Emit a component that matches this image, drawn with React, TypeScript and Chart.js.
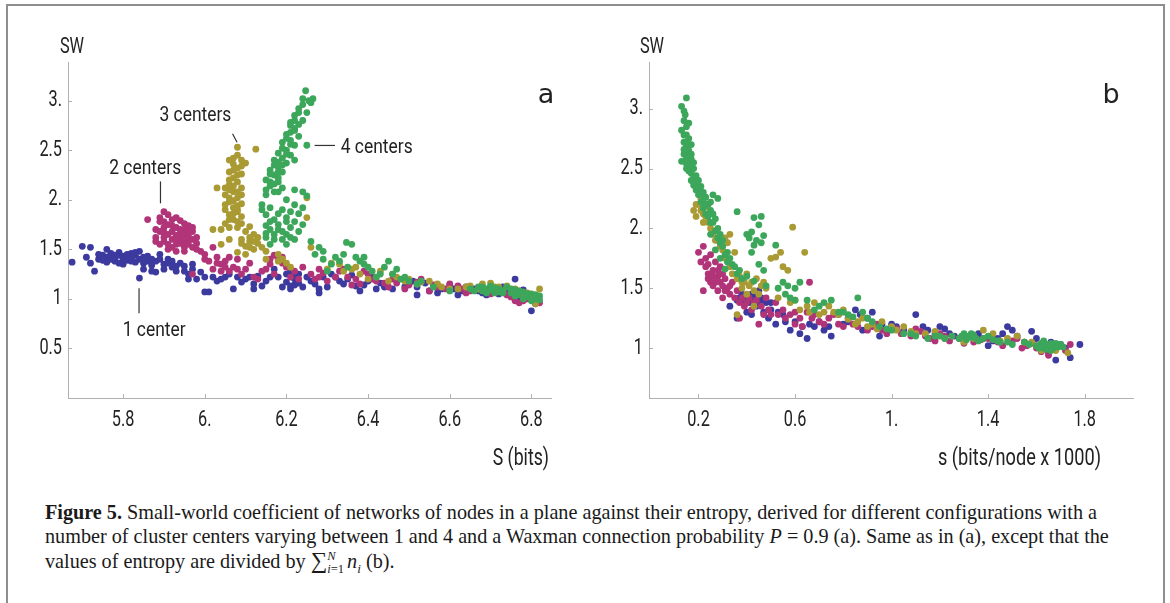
import React, { useEffect, useRef } from 'react';
import { Chart, registerables } from 'chart.js';
Chart.register(...registerables);

const SANS = "Roboto, 'Noto Sans', sans-serif";
const SERIF = "'Liberation Serif', 'DejaVu Serif', serif";

const COLORS = { blue: '#3c3a9e', magenta: '#b13479', olive: '#a99a34', green: '#3ca65b' };

// ---------- Panel a data (S in bits, SW) as flat x,y pairs ----------
const blueA = [
  5.675,1.37, 5.70,1.53, 5.72,1.52, 5.74,1.40, 5.73,1.28, 5.75,1.44, 5.76,1.50, 5.77,1.43, 5.78,1.41, 5.78,1.38,
  5.79,1.44, 5.80,1.40, 5.80,1.35, 5.81,1.42, 5.82,1.46, 5.82,1.38, 5.83,1.44, 5.84,1.40, 5.84,1.48, 5.85,1.36,
  5.85,1.30, 5.86,1.43, 5.87,1.28, 5.87,1.40, 5.88,1.38, 5.89,1.45, 5.90,1.35, 5.91,1.40, 5.92,1.32, 5.93,1.28,
  5.94,1.36, 5.95,1.33, 5.96,1.25, 5.97,1.30, 5.84,1.21, 5.88,1.27, 5.76,1.37, 5.79,1.47, 5.77,1.40, 5.81,1.39,
  5.98,1.20, 6.00,1.07, 6.01,1.07, 6.02,1.22, 6.03,1.18, 6.05,1.22, 6.06,1.25, 6.07,1.10, 6.08,1.22, 6.10,1.20,
  6.12,1.15, 6.13,1.23, 6.15,1.18, 6.17,1.30, 6.18,1.22, 6.19,1.12, 6.20,1.17, 6.21,1.10, 6.22,1.20, 6.23,1.25,
  6.24,1.12, 6.26,1.18, 6.28,1.06, 6.29,1.22, 6.31,1.25, 6.33,1.18, 6.35,1.20, 6.37,1.13, 6.40,1.18, 6.42,1.10,
  6.44,1.12, 6.47,1.20, 6.50,1.15, 6.52,1.12, 6.55,1.08, 6.58,1.10, 6.60,1.14, 6.62,1.04, 6.63,1.08, 6.66,1.10,
  6.68,1.06, 6.70,1.12, 6.72,1.05, 6.74,1.10, 6.76,1.20, 6.77,1.02, 6.79,1.05, 6.80,0.88, 6.81,1.00,
  5.71,1.42, 5.72,1.36, 5.74,1.45, 5.75,1.39, 5.76,1.42, 5.77,1.46, 5.78,1.44, 5.79,1.36, 5.80,1.43, 5.81,1.45,
  5.82,1.41, 5.83,1.37, 5.83,1.47, 5.85,1.42, 5.86,1.38, 5.87,1.34, 5.89,1.40, 5.90,1.30, 5.91,1.36, 5.92,1.38,
  5.93,1.33, 5.95,1.28, 5.97,1.35, 5.99,1.27, 6.00,1.22, 6.04,1.20, 6.09,1.17, 6.11,1.22, 6.14,1.13, 6.16,1.22,
  6.20,1.25, 6.22,1.14, 6.25,1.22, 6.27,1.15, 6.30,1.12, 6.32,1.22, 6.34,1.15, 6.36,1.24, 6.39,1.14, 6.41,1.22,
  6.43,1.16, 6.46,1.10, 6.49,1.12, 6.51,1.18, 6.54,1.16, 6.57,1.06, 6.61,1.10, 6.64,1.12, 6.67,1.08, 6.69,1.04,
  6.71,1.09, 6.73,1.12, 6.75,1.07, 6.78,1.09, 6.80,1.02, 6.81,0.95,
  6.21,1.28, 6.22,1.24, 6.23,1.16, 6.21,1.13, 6.12,1.10, 5.96,1.20, 6.28,1.10, 6.38,1.08, 6.52,1.04
];
const magentaA = [
  5.86,1.80, 5.88,1.70, 5.88,1.62, 5.89,1.55, 5.89,1.78, 5.90,1.88, 5.90,1.72, 5.90,1.58, 5.91,1.85, 5.91,1.65,
  5.91,1.50, 5.92,1.80, 5.92,1.60, 5.92,1.68, 5.93,1.72, 5.93,1.55, 5.93,1.48, 5.94,1.79, 5.94,1.62, 5.94,1.66,
  5.95,1.58, 5.95,1.52, 5.95,1.70, 5.96,1.64, 5.96,1.55, 5.96,1.74, 5.97,1.60, 5.97,1.68, 5.98,1.50, 5.98,1.56,
  5.99,1.48, 6.00,1.45, 6.01,1.38, 6.02,1.52, 6.02,1.30, 6.03,1.42, 6.04,1.35, 6.05,1.38, 6.06,1.28, 6.07,1.32,
  6.08,1.40, 6.09,1.25, 6.10,1.30, 6.12,1.22, 6.14,1.28, 6.16,1.35, 6.17,1.25, 6.18,1.40, 6.20,1.32, 6.22,1.28,
  6.23,1.20, 6.26,1.25, 6.28,1.30, 6.30,1.18, 6.33,1.28, 6.35,1.22, 6.38,1.15, 6.40,1.25, 6.42,1.18, 6.45,1.12,
  6.47,1.16, 6.50,1.14, 6.53,1.20, 6.55,1.08, 6.57,1.12, 6.60,1.15, 6.63,1.10, 6.65,1.08, 6.68,1.12, 6.70,1.05,
  6.73,1.08, 6.75,1.02, 6.77,0.96, 6.79,1.00, 6.81,0.98, 5.97,1.25, 6.04,1.28, 5.90,1.62, 5.93,1.64, 5.95,1.76,
  5.89,1.82, 5.90,1.67, 5.91,1.75, 5.91,1.55, 5.92,1.74, 5.92,1.52, 5.93,1.82, 5.93,1.60, 5.94,1.70, 5.94,1.56,
  5.95,1.64, 5.95,1.48, 5.96,1.60, 5.96,1.68, 5.97,1.72, 5.97,1.52, 5.98,1.62, 5.89,1.68, 5.88,1.58, 5.90,1.78,
  6.00,1.40, 6.03,1.36, 6.06,1.42, 6.08,1.30, 6.11,1.36, 6.13,1.20, 6.15,1.30, 6.19,1.36, 6.21,1.22, 6.24,1.32,
  6.27,1.20, 6.29,1.26, 6.32,1.22, 6.34,1.30, 6.37,1.20, 6.39,1.28, 6.41,1.20, 6.44,1.16, 6.46,1.20, 6.49,1.10,
  6.52,1.17, 6.56,1.14, 6.59,1.10, 6.62,1.13, 6.64,1.06, 6.67,1.10, 6.72,1.10, 6.74,1.04, 6.76,0.98, 6.78,0.98,
  6.80,1.02, 6.82,0.96,
  6.17,1.44, 6.19,1.42, 6.16,1.40, 6.28,1.22, 6.36,1.14, 6.05,1.32
];
const oliveA = [
  6.08,2.53, 6.125,2.51, 6.08,2.45, 6.09,2.40, 6.07,2.36, 6.10,2.37, 6.08,2.32, 6.06,2.28, 6.09,2.26, 6.07,2.22,
  6.08,2.18, 6.03,2.12, 6.06,2.15, 6.09,2.12, 6.07,2.08, 6.05,2.05, 6.08,2.02, 6.06,1.98, 6.09,1.96, 6.07,1.92,
  6.05,1.90, 6.08,1.88, 6.06,1.85, 6.09,1.83, 6.07,1.80, 6.05,1.76, 6.04,1.70, 6.08,1.72, 6.11,1.73, 6.10,1.68,
  6.12,1.65, 6.09,1.60, 6.11,1.58, 6.13,1.56, 6.10,1.53, 6.12,1.50, 6.08,1.47, 6.14,1.52, 6.02,1.70, 6.06,1.60,
  6.04,1.55, 6.10,1.45, 6.15,1.40, 6.18,1.45, 6.18,1.38, 6.20,1.36, 6.25,1.82, 6.26,1.52, 6.25,2.02, 6.30,1.30,
  6.33,1.35, 6.36,1.30, 6.38,1.25, 6.40,1.20, 6.43,1.28, 6.45,1.18, 6.47,1.22, 6.50,1.20, 6.52,1.15, 6.55,1.18,
  6.58,1.12, 6.62,1.10, 6.65,1.13, 6.68,1.15, 6.71,1.12, 6.73,1.08, 6.76,1.10, 6.78,1.05, 6.80,1.03, 6.82,1.10,
  6.81,0.95, 6.07,2.30, 6.06,2.10, 6.08,1.94, 6.07,1.86,
  6.06,2.40, 6.07,2.42, 6.09,2.34, 6.06,2.20, 6.08,2.25, 6.07,2.14, 6.05,2.12, 6.08,2.08, 6.06,2.02, 6.09,2.05,
  6.07,1.99, 6.05,1.95, 6.08,1.90, 6.06,1.80, 6.08,1.78, 6.06,1.72, 6.09,1.76, 6.11,1.62, 6.12,1.58, 6.13,1.62,
  6.11,1.52, 6.09,1.56, 6.15,1.48, 6.19,1.40, 6.21,1.32, 6.31,1.36, 6.34,1.28, 6.37,1.32, 6.42,1.22, 6.46,1.25,
  6.49,1.18, 6.53,1.17, 6.57,1.15, 6.60,1.10, 6.64,1.12, 6.67,1.10, 6.70,1.16, 6.72,1.12, 6.74,1.13, 6.77,1.08,
  6.79,1.06, 6.81,1.04
];
const greenA = [
  6.247,3.10, 6.265,3.02, 6.255,3.00, 6.24,2.96, 6.23,2.92, 6.25,2.88, 6.22,2.85, 6.24,2.80, 6.23,2.76, 6.21,2.75,
  6.22,2.70, 6.20,2.66, 6.23,2.64, 6.21,2.60, 6.19,2.58, 6.22,2.55, 6.25,2.55, 6.20,2.50, 6.18,2.47, 6.21,2.45,
  6.19,2.42, 6.17,2.40, 6.20,2.37, 6.18,2.33, 6.16,2.30, 6.19,2.28, 6.17,2.25, 6.15,2.20, 6.18,2.18, 6.16,2.14,
  6.19,2.12, 6.17,2.08, 6.15,2.05, 6.22,2.10, 6.24,2.08, 6.25,2.04, 6.20,2.00, 6.22,1.95, 6.14,1.95, 6.16,1.92,
  6.19,1.90, 6.21,1.88, 6.23,1.86, 6.24,1.92, 6.15,1.85, 6.17,1.80, 6.20,1.82, 6.22,1.78, 6.18,1.75, 6.15,1.74,
  6.16,1.70, 6.19,1.68, 6.21,1.72, 6.24,1.75, 6.17,1.65, 6.15,1.62, 6.19,1.60, 6.22,1.60, 6.26,1.58, 6.16,1.55,
  6.20,1.55, 6.28,1.52, 6.27,1.45, 6.29,1.40, 6.31,1.35, 6.30,1.28, 6.33,1.38, 6.35,1.32, 6.36,1.55, 6.37,1.42,
  6.39,1.35, 6.41,1.28, 6.42,1.22, 6.44,1.32, 6.45,1.38, 6.46,1.25, 6.48,1.20, 6.50,1.18, 6.52,1.15, 6.56,1.12,
  6.60,1.08, 6.65,1.10, 6.67,1.12, 6.68,1.08, 6.69,1.10, 6.70,1.13, 6.71,1.06, 6.72,1.10, 6.73,1.08, 6.74,1.12,
  6.75,1.06, 6.76,1.09, 6.77,1.04, 6.78,1.07, 6.79,1.02, 6.80,1.05, 6.81,1.00, 6.82,1.03, 6.80,0.98, 6.78,1.00,
  6.70,1.09, 6.72,1.07, 6.347,1.57, 6.39,1.42, 6.21,2.68, 6.22,2.40, 6.18,2.22,
  6.24,3.02, 6.26,2.98, 6.23,2.88, 6.22,2.80, 6.21,2.78, 6.22,2.72, 6.20,2.62, 6.21,2.56, 6.19,2.52, 6.20,2.46,
  6.18,2.38, 6.17,2.35, 6.19,2.35, 6.16,2.26, 6.18,2.28, 6.16,2.18, 6.17,2.16, 6.15,2.10, 6.18,2.08, 6.14,1.90,
  6.18,1.86, 6.20,1.78, 6.16,1.78, 6.18,1.70, 6.20,1.65, 6.17,1.60, 6.23,1.68, 6.21,1.62, 6.15,1.66,
  6.29,1.48, 6.32,1.42, 6.34,1.45, 6.38,1.38, 6.40,1.32, 6.43,1.25, 6.47,1.30, 6.49,1.22, 6.53,1.18, 6.66,1.08,
  6.68,1.12, 6.71,1.11, 6.73,1.06, 6.75,1.10, 6.77,1.08, 6.79,1.05, 6.81,1.04, 6.82,0.99, 6.76,1.03, 6.69,1.06
];

// ---------- Panel b data (s in bits/node x 1000, SW) ----------
const blueB = [
  0.33,1.35, 0.36,1.40, 0.38,1.45, 0.40,1.42, 0.41,1.38, 0.42,1.45, 0.43,1.40, 0.44,1.35, 0.45,1.48, 0.46,1.42,
  0.47,1.30, 0.48,1.38, 0.49,1.25, 0.42,1.28, 0.50,1.32, 0.52,1.20, 0.55,1.28, 0.58,1.15, 0.60,1.22, 0.62,1.12,
  0.65,1.08, 0.68,1.18, 0.70,1.22, 0.72,1.15, 0.75,1.10, 0.78,1.28, 0.80,1.20, 0.85,1.32, 0.88,1.15, 0.90,1.25,
  0.92,1.30, 0.95,1.10, 1.00,1.20, 1.05,1.15, 1.10,1.28, 1.13,1.18, 1.18,1.12, 1.22,1.16, 1.26,1.10, 1.30,1.08,
  1.36,1.12, 1.40,1.02, 1.44,1.08, 1.48,1.18, 1.52,1.10, 1.55,1.05, 1.58,1.14, 1.62,1.02, 1.65,0.96, 1.68,0.90,
  1.72,1.00, 1.74,0.92, 1.78,1.03,
  0.37,1.42, 0.39,1.40, 0.41,1.44, 0.43,1.46, 0.44,1.42, 0.45,1.38, 0.47,1.40, 0.50,1.38, 0.40,1.30, 0.36,1.25,
  0.53,1.30, 0.56,1.22, 0.63,1.18, 0.66,1.20, 0.74,1.18, 0.82,1.22, 0.87,1.28, 0.96,1.20, 1.02,1.18, 1.08,1.12,
  1.15,1.15, 1.20,1.18, 1.24,1.12, 1.33,1.10, 1.38,1.08, 1.42,1.06, 1.46,1.12, 1.50,1.15, 1.60,1.08, 1.66,1.05,
  1.70,1.03
];
const magentaB = [
  0.20,1.80, 0.22,1.85, 0.23,1.75, 0.24,1.70, 0.25,1.78, 0.26,1.65, 0.22,1.48, 0.24,1.62, 0.25,1.55, 0.27,1.72,
  0.28,1.60, 0.29,1.55, 0.26,1.52, 0.28,1.48, 0.30,1.62, 0.31,1.58, 0.29,1.68, 0.32,1.50, 0.33,1.45, 0.30,1.42,
  0.34,1.55, 0.36,1.48, 0.38,1.42, 0.40,1.38, 0.42,1.32, 0.44,1.40, 0.46,1.35, 0.48,1.42, 0.50,1.28, 0.52,1.38,
  0.55,1.32, 0.58,1.28, 0.60,1.20, 0.62,1.25, 0.65,1.30, 0.66,1.55, 0.68,1.28, 0.70,1.22, 0.74,1.25, 0.78,1.20,
  0.82,1.25, 0.86,1.18, 0.90,1.15, 0.94,1.20, 0.98,1.12, 1.02,1.16, 1.08,1.10, 1.12,1.14, 1.16,1.08, 1.20,1.12,
  1.24,1.06, 1.28,1.08, 1.34,1.05, 1.40,1.08, 1.46,1.02, 1.50,1.06, 1.54,1.00, 1.58,1.04, 1.62,0.97, 1.65,0.94,
  1.70,1.02, 1.74,1.03, 0.37,1.25, 0.45,1.20,
  0.21,1.72, 0.23,1.68, 0.24,1.58, 0.26,1.60, 0.27,1.55, 0.28,1.65, 0.30,1.52, 0.31,1.48, 0.33,1.52, 0.35,1.42,
  0.37,1.38, 0.39,1.35, 0.41,1.42, 0.43,1.38, 0.47,1.28, 0.49,1.32, 0.53,1.28, 0.56,1.25, 0.60,1.30, 0.63,1.18,
  0.67,1.25, 0.72,1.20, 0.76,1.28, 0.80,1.18, 0.84,1.20, 0.92,1.18, 0.96,1.15, 1.04,1.12, 1.10,1.16, 1.14,1.10,
  1.18,1.06, 1.22,1.10, 1.30,1.04, 1.37,1.07, 1.44,1.05, 1.52,1.08, 1.56,1.02, 1.60,1.00, 1.66,0.99, 1.72,0.98
];
const oliveB = [
  0.18,2.15, 0.19,2.10, 0.20,2.20, 0.21,2.25, 0.22,2.12, 0.23,2.18, 0.24,2.05, 0.22,2.22, 0.25,2.00, 0.26,1.95,
  0.28,1.90, 0.30,1.82, 0.32,1.88, 0.31,1.92, 0.33,1.95, 0.35,1.80, 0.37,1.60, 0.39,1.55, 0.40,1.62, 0.38,1.50,
  0.42,1.55, 0.44,1.58, 0.46,1.52, 0.48,1.50, 0.40,1.45, 0.36,1.28, 0.43,1.35, 0.50,1.75, 0.52,1.76, 0.54,1.80,
  0.55,1.68, 0.57,1.65, 0.59,2.01, 0.64,1.80, 0.60,1.40, 0.65,1.35, 0.68,1.38, 0.72,1.30, 0.74,1.35, 0.78,1.28,
  0.80,1.32, 0.85,1.20, 0.88,1.25, 0.92,1.20, 0.96,1.22, 1.02,1.15, 1.05,1.18, 1.10,1.12, 1.18,1.14, 1.25,1.10,
  1.30,1.05, 1.38,1.15, 1.42,1.12, 1.48,1.08, 1.52,1.10, 1.58,1.05, 1.62,0.98, 1.66,1.00, 1.70,1.02, 1.73,0.96,
  0.19,2.20, 0.21,2.15, 0.22,2.05, 0.23,2.10, 0.27,1.90, 0.29,1.85, 0.31,1.75, 0.33,1.68, 0.34,1.62, 0.36,1.58,
  0.38,1.55, 0.41,1.52, 0.43,1.48, 0.45,1.45, 0.47,1.55, 0.53,1.42, 0.58,1.38, 0.62,1.32, 0.66,1.30, 0.70,1.28,
  0.76,1.30, 0.82,1.24, 0.86,1.22, 0.90,1.18, 0.94,1.16, 1.00,1.18, 1.08,1.14, 1.14,1.12, 1.22,1.08, 1.34,1.08,
  1.45,1.06, 1.55,1.05, 1.60,1.02, 1.68,0.98
];
const greenB = [
  0.15,3.09, 0.13,3.02, 0.14,2.98, 0.145,2.95, 0.14,2.90, 0.15,2.85, 0.16,2.88, 0.13,2.82, 0.15,2.78, 0.16,2.75,
  0.14,2.72, 0.15,2.68, 0.16,2.65, 0.17,2.70, 0.14,2.62, 0.15,2.58, 0.16,2.55, 0.13,2.56, 0.17,2.52, 0.18,2.55,
  0.15,2.50, 0.17,2.46, 0.18,2.42, 0.19,2.44, 0.20,2.40, 0.18,2.36, 0.19,2.32, 0.21,2.35, 0.22,2.30, 0.20,2.28,
  0.23,2.26, 0.21,2.22, 0.24,2.20, 0.22,2.17, 0.25,2.15, 0.26,2.28, 0.28,2.25, 0.24,2.10, 0.26,2.05, 0.27,1.98,
  0.25,1.95, 0.28,1.92, 0.29,1.88, 0.30,1.85, 0.27,1.82, 0.31,1.78, 0.29,1.75, 0.32,1.72, 0.34,1.70, 0.31,1.66,
  0.36,1.62, 0.38,1.58, 0.36,2.14, 0.40,1.95, 0.41,1.92, 0.42,1.97, 0.43,2.09, 0.46,2.10, 0.45,2.03, 0.44,1.90,
  0.43,1.86, 0.47,1.94, 0.46,1.88, 0.42,1.80, 0.45,1.70, 0.47,1.65, 0.52,1.86, 0.55,1.55, 0.57,1.52, 0.60,1.50,
  0.62,1.55, 0.58,1.42, 0.65,1.40, 0.70,1.35, 0.75,1.40, 0.78,1.30, 0.82,1.28, 0.86,1.42, 0.90,1.25, 0.95,1.18,
  1.00,1.15, 1.05,1.12, 1.10,1.10, 1.15,1.08, 1.20,1.10, 1.25,1.10, 1.28,1.08, 1.30,1.12, 1.31,1.07, 1.32,1.10,
  1.33,1.09, 1.34,1.11, 1.35,1.08, 1.36,1.06, 1.40,1.10, 1.42,1.07, 1.45,1.05, 1.50,1.03, 1.55,1.05, 1.60,1.02,
  1.62,1.04, 1.63,1.00, 1.64,1.03, 1.65,1.01, 1.66,1.04, 1.67,1.00, 1.68,1.02, 1.69,1.01, 1.70,1.03, 1.66,0.98,
  1.63,1.06, 0.15,2.62, 0.16,2.70, 0.14,2.78, 0.17,2.58,
  0.14,2.66, 0.15,2.72, 0.16,2.60, 0.15,2.54, 0.17,2.62, 0.16,2.48, 0.18,2.50, 0.17,2.40, 0.19,2.38, 0.20,2.34,
  0.21,2.30, 0.22,2.25, 0.23,2.20, 0.25,2.22, 0.23,2.12, 0.26,2.12, 0.27,2.08, 0.25,2.05, 0.28,2.00, 0.29,1.95,
  0.30,1.90, 0.32,1.80, 0.33,1.75, 0.35,1.68, 0.37,1.65, 0.40,1.60, 0.43,1.56, 0.48,1.52, 0.53,1.50, 0.56,1.45,
  0.60,1.40, 0.68,1.32, 0.72,1.38, 0.80,1.30, 0.84,1.26, 0.88,1.30, 0.92,1.22, 0.98,1.16, 1.08,1.12, 1.18,1.10,
  1.22,1.08, 1.29,1.10, 1.33,1.12, 1.38,1.08, 1.44,1.06, 1.48,1.05, 1.57,1.03, 1.61,1.00, 1.64,0.99, 1.68,1.04,
  1.71,1.01
];

// ---------- Axes ----------
const xTicksA = [5.8, 6, 6.2, 6.4, 6.6, 6.8];
const xTickLabelsA = ['5.8', '6.', '6.2', '6.4', '6.6', '6.8'];
const yTicksA = [0.5, 1, 1.5, 2, 2.5, 3];
const yTickLabelsA = ['0.5', '1', '1.5', '2.', '2.5', '3.'];
const xTicksB = [0.2, 0.6, 1, 1.4, 1.8];
const xTickLabelsB = ['0.2', '0.6', '1.', '1.4', '1.8'];
const yTicksB = [1, 1.5, 2, 2.5, 3];
const yTickLabelsB = ['1', '1.5', '2.', '2.5', '3.'];

// ---------- Callouts (panel a) ----------
const calloutText = ['1 center', '2 centers', '3 centers', '4 centers'];
const calloutX = [5.876, 5.854, 5.977, 6.333];
const calloutY = [0.675, 2.316, 2.85, 2.528];
const calloutAlign = ['center', 'center', 'center', 'left'];
const leaderX1 = [5.839, 5.8915, 6.068, 6.269];
const leaderY1 = [1.108, 2.185, 2.666, 2.548];
const leaderX2 = [5.839, 5.8915, 6.079, 6.319];
const leaderY2 = [0.856, 1.964, 2.581, 2.548];

function toPts(arr: number[]) {
  const out: { x: number; y: number }[] = [];
  for (let i = 0; i < arr.length; i += 2) out.push({ x: arr[i], y: arr[i + 1] });
  return out;
}

// draw horizontally condensed text (reference uses a condensed DIN-like face)
function narrowText(ctx: any, text: string, x: number, y: number, size: number, sx: number, align: string) {
  ctx.save();
  ctx.font = `${size}px ${SANS}`;
  ctx.textAlign = align;
  ctx.textBaseline = 'middle';
  ctx.translate(x, y);
  ctx.scale(sx, 1);
  ctx.fillText(text, 0, 0);
  ctx.restore();
}

const decorPlugin = {
  id: 'decor',
  afterDraw(chart: any, _args: any, opts: any) {
    const ctx = chart.ctx;
    const xs = chart.scales.x;
    const ys = chart.scales.y;
    const { left, bottom } = chart.chartArea;
    ctx.save();
    ctx.strokeStyle = '#b0b0b0';
    ctx.lineWidth = 1;
    xs.ticks.forEach((t: any) => {
      const p = Math.round(xs.getPixelForValue(t.value)) + 0.5;
      ctx.beginPath(); ctx.moveTo(p, bottom); ctx.lineTo(p, bottom - 4); ctx.stroke();
    });
    ys.ticks.forEach((t: any) => {
      const p = Math.round(ys.getPixelForValue(t.value)) + 0.5;
      ctx.beginPath(); ctx.moveTo(left, p); ctx.lineTo(left + 4, p); ctx.stroke();
    });
    // tick labels
    ctx.fillStyle = '#222';
    xs.ticks.forEach((t: any, i: number) => {
      narrowText(ctx, opts.xLabels[i], xs.getPixelForValue(t.value), bottom + 22, 22, 0.74, 'center');
    });
    ys.ticks.forEach((t: any, i: number) => {
      narrowText(ctx, opts.yLabels[i], left - 6, ys.getPixelForValue(t.value), 22, 0.74, 'right');
    });
    const c = opts.callouts;
    if (c) {
      ctx.fillStyle = '#222';
      c.text.forEach((txt: string, i: number) => {
        narrowText(ctx, txt, xs.getPixelForValue(c.x[i]), ys.getPixelForValue(c.y[i]), 21, 0.83, c.align[i]);
      });
      ctx.strokeStyle = '#333';
      ctx.lineWidth = 1.2;
      c.x1.forEach((_: number, i: number) => {
        ctx.beginPath();
        ctx.moveTo(xs.getPixelForValue(c.x1[i]), ys.getPixelForValue(c.y1[i]));
        ctx.lineTo(xs.getPixelForValue(c.x2[i]), ys.getPixelForValue(c.y2[i]));
        ctx.stroke();
      });
    }
    ctx.restore();
  },
};

function makeChart(canvas: HTMLCanvasElement, cfg: any) {
  return new Chart(canvas, {
    type: 'scatter',
    data: {
      datasets: cfg.series.map((s: any) => ({
        data: toPts(s.data),
        backgroundColor: s.color,
        borderWidth: 0,
        pointRadius: 3.4,
        pointHoverRadius: 3.4,
      })),
    },
    options: {
      responsive: false,
      maintainAspectRatio: false,
      animation: false,
      events: [],
      layout: { padding: cfg.padding },
      plugins: {
        legend: { display: false },
        tooltip: { enabled: false },
        decor: { callouts: cfg.callouts, xLabels: cfg.xLabels, yLabels: cfg.yLabels },
      } as any,
      scales: {
        x: {
          type: 'linear',
          min: cfg.xMin,
          max: cfg.xMax,
          grid: { display: false },
          border: { display: true, color: '#b0b0b0', width: 1 },
          afterBuildTicks: (s: any) => { s.ticks = cfg.xTicks.map((v: number) => ({ value: v })); },
          afterFit: (s: any) => { s.height = cfg.xh; },
          ticks: { display: false },
        },
        y: {
          type: 'linear',
          min: cfg.yMin,
          max: cfg.yMax,
          grid: { display: false },
          border: { display: true, color: '#b0b0b0', width: 1 },
          afterBuildTicks: (s: any) => { s.ticks = cfg.yTicks.map((v: number) => ({ value: v })); },
          afterFit: (s: any) => { s.width = cfg.yw; },
          ticks: { display: false },
        },
      },
    } as any,
    plugins: [decorPlugin],
  });
}

function Label({ x, y, text, size = 22, anchor = 'center', family = SANS, sx = 0.76 }: any) {
  const tx = anchor === 'right' ? '-100%' : anchor === 'left' ? '0' : '-50%';
  const origin = anchor === 'right' ? 'right center' : anchor === 'left' ? 'left center' : 'center center';
  return (
    <div style={{ position: 'absolute', left: x, top: y, transform: `translate(${tx}, -50%)`, fontFamily: family, fontSize: size, lineHeight: 1, color: '#222', whiteSpace: 'nowrap' }}>
      <div style={{ transform: `scaleX(${sx})`, transformOrigin: origin }}>{text}</div>
    </div>
  );
}

export default function App() {
  const refA = useRef<HTMLCanvasElement>(null);
  const refB = useRef<HTMLCanvasElement>(null);

  useEffect(() => {
    const a = makeChart(refA.current!, {
      series: [
        { data: greenA, color: COLORS.green },
        { data: oliveA, color: COLORS.olive },
        { data: magentaA, color: COLORS.magenta },
        { data: blueA, color: COLORS.blue },
      ],
      padding: { left: 0, top: 62, right: 29, bottom: 0 },
      yw: 68, xh: 82,
      xMin: 5.665, xMax: 6.848, yMin: 0, yMax: 3.39,
      xTicks: xTicksA, xLabels: xTickLabelsA, yTicks: yTicksA, yLabels: yTickLabelsA,
      callouts: { text: calloutText, x: calloutX, y: calloutY, align: calloutAlign, x1: leaderX1, y1: leaderY1, x2: leaderX2, y2: leaderY2 },
    });
    const b = makeChart(refB.current!, {
      series: [
        { data: greenB, color: COLORS.green },
        { data: oliveB, color: COLORS.olive },
        { data: magentaB, color: COLORS.magenta },
        { data: blueB, color: COLORS.blue },
      ],
      padding: { left: 0, top: 62, right: 37, bottom: 0 },
      yw: 69, xh: 82,
      xMin: -0.005, xMax: 2.0, yMin: 0.583, yMax: 3.39,
      xTicks: xTicksB, xLabels: xTickLabelsB, yTicks: yTicksB, yLabels: yTickLabelsB,
      callouts: null,
    });
    return () => { a.destroy(); b.destroy(); };
  }, []);

  return (
    <div style={{ position: 'absolute', left: 0, top: 0, width: 1170, height: 603, background: '#fff', overflow: 'hidden' }}>
      <div style={{ position: 'absolute', left: 6, top: 4, width: 1159, height: 700, boxSizing: 'border-box', border: '2px solid #8e8e8e', borderBottom: 'none' }} />
      <canvas ref={refA} width={580} height={480} style={{ position: 'absolute', left: 0, top: 0, width: 580, height: 480, display: 'block' }} />
      <canvas ref={refB} width={590} height={480} style={{ position: 'absolute', left: 580, top: 0, width: 590, height: 480, display: 'block' }} />
      <Label x={72} y={46} text="SW" sx={0.74} />
      <Label x={546} y={93} text="a" size={27} family="'DejaVu Sans', sans-serif" sx={1} />
      <Label x={549} y={457} text="S (bits)" size={23} anchor="right" sx={0.77} />
      <Label x={652} y={46} text="SW" sx={0.74} />
      <Label x={1111} y={93} text="b" size={27} family="'DejaVu Sans', sans-serif" sx={1} />
      <Label x={1101} y={457} text="s (bits/node x 1000)" size={23} anchor="right" sx={0.79} />
      <div style={{ position: 'absolute', left: 45, top: 500, fontFamily: SERIF, fontSize: 20.2, lineHeight: '24px', color: '#1a1a1a', whiteSpace: 'nowrap' }}>
        <div><b>Figure 5.</b> Small-world coefficient of networks of nodes in a plane against their entropy, derived for different configurations with a</div>
        <div>number of cluster centers varying between 1 and 4 and a Waxman connection probability <i>P</i> = 0.9 (a). Same as in (a), except that the</div>
        <div>
          values of entropy are divided by{' '}
          <span style={{ fontSize: '1.15em' }}>∑</span>
          <span style={{ display: 'inline-flex', flexDirection: 'column', fontSize: '0.62em', lineHeight: 1.05, verticalAlign: 'middle', marginRight: 3 }}>
            <i>N</i>
            <span><i>i</i>=1</span>
          </span>
          <i>n</i><sub style={{ fontSize: '0.65em' }}><i>i</i></sub> (b).
        </div>
      </div>
    </div>
  );
}
